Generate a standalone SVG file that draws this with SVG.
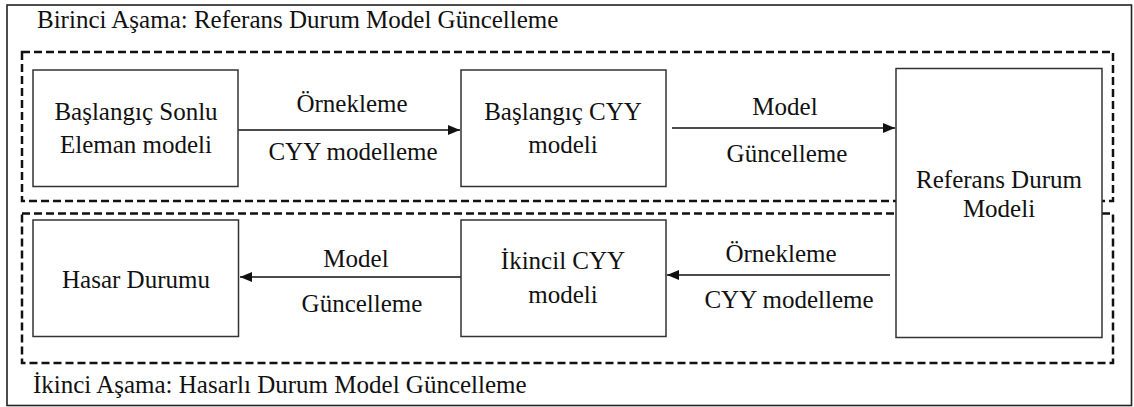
<svg xmlns="http://www.w3.org/2000/svg" width="1134" height="407" viewBox="0 0 1134 407" font-family="Liberation Serif" font-size="25">
  <style>
    .c { text-anchor: middle; }
    .frame { fill: #fff; stroke: #222; stroke-width: 1.6; }
    .stage { fill: none; stroke: #111; stroke-width: 2.5; stroke-dasharray: 8 4; }
    .box { fill: #fff; stroke: #333; stroke-width: 1.5; }
    .edge { fill: none; stroke: #111; stroke-width: 1.5; }
  </style>
  <defs>
    <marker id="arrow" viewBox="0 0 12 10" refX="12" refY="5" markerWidth="12" markerHeight="10" markerUnits="userSpaceOnUse" orient="auto">
      <path d="M0,0 L12,5 L0,10 Z" fill="#111"/>
    </marker>
  </defs>

  <rect width="1134" height="407" fill="#fff"/>
  <rect class="frame" x="7" y="5" width="1124.5" height="400.5"/>

  <!-- stage captions -->
  <g fill="#111" font-family="Liberation Serif">
    <text x="37" y="28">Birinci Aşama: Referans Durum Model Güncelleme</text>
    <text x="33" y="393">İkinci Aşama: Hasarlı Durum Model Güncelleme</text>
  </g>

  <!-- stage outlines -->
  <rect class="stage" x="22" y="52" width="1091" height="149"/>
  <rect class="stage" x="22" y="213.5" width="1091" height="149.5"/>

  <!-- connectors -->
  <g id="connectors" fill="#111" font-family="Liberation Serif">
    <line class="edge" x1="238" y1="130" x2="460" y2="130" marker-end="url(#arrow)"/>
    <text class="c" x="352" y="112">Örnekleme</text>
    <text class="c" x="353" y="160">CYY modelleme</text>

    <line class="edge" x1="672" y1="128" x2="895" y2="128" marker-end="url(#arrow)"/>
    <text class="c" x="785" y="115">Model</text>
    <text class="c" x="787" y="162">Güncelleme</text>

    <line class="edge" x1="890" y1="275" x2="667" y2="275" marker-end="url(#arrow)"/>
    <text class="c" x="781" y="262">Örnekleme</text>
    <text class="c" x="789" y="308">CYY modelleme</text>

    <line class="edge" x1="461" y1="277" x2="240" y2="277" marker-end="url(#arrow)"/>
    <text class="c" x="356" y="267">Model</text>
    <text class="c" x="362" y="312">Güncelleme</text>
  </g>

  <!-- nodes -->
  <g fill="#111" font-family="Liberation Serif">
    <g id="baslangic-sonlu">
      <rect class="box" x="33" y="70" width="205" height="116.5"/>
      <text class="c" x="136" y="120">Başlangıç Sonlu</text>
      <text class="c" x="136" y="153">Eleman modeli</text>
    </g>
    <g id="baslangic-cyy">
      <rect class="box" x="461" y="70" width="205" height="116.5"/>
      <text class="c" x="563" y="120">Başlangıç CYY</text>
      <text class="c" x="563" y="153">modeli</text>
    </g>
    <g id="referans">
      <rect class="box" x="896" y="68.5" width="206" height="269"/>
      <text class="c" x="999" y="188">Referans Durum</text>
      <text class="c" x="999" y="217">Modeli</text>
    </g>
    <g id="hasar">
      <rect class="box" x="33" y="220" width="205.5" height="116.5"/>
      <text class="c" x="136" y="288">Hasar Durumu</text>
    </g>
    <g id="ikincil-cyy">
      <rect class="box" x="461" y="220" width="205" height="116.5"/>
      <text class="c" x="563" y="269">İkincil CYY</text>
      <text class="c" x="563" y="303">modeli</text>
    </g>
  </g>
</svg>
